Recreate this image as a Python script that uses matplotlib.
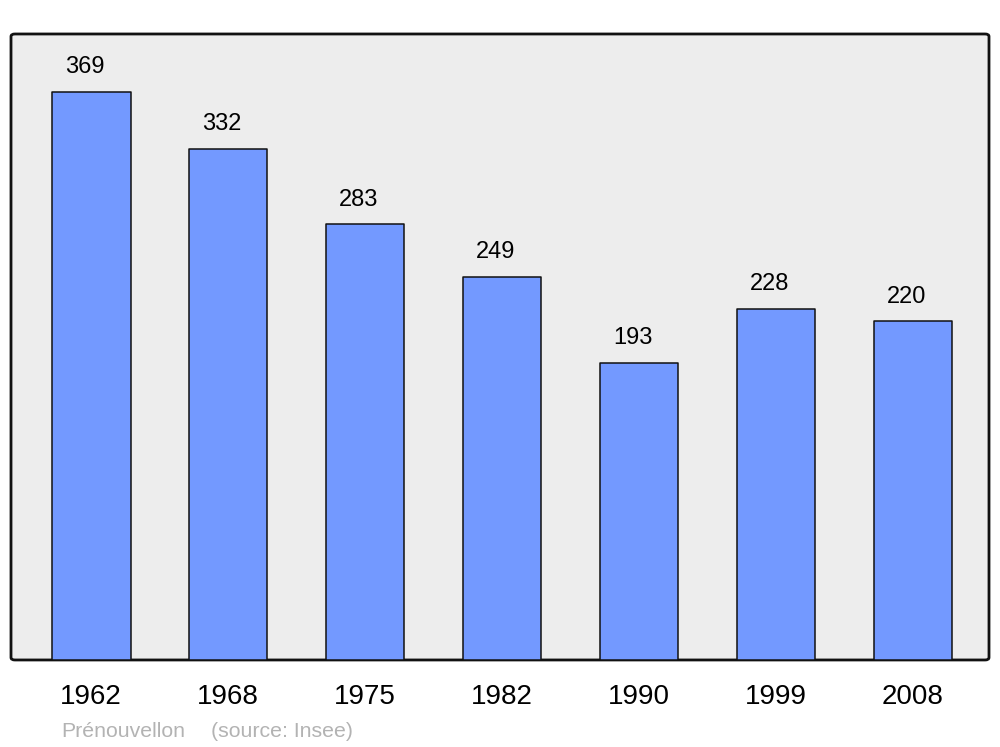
import matplotlib.pyplot as plt
from matplotlib.patches import FancyBboxPatch

years = ["1962", "1968", "1975", "1982", "1990", "1999", "2008"]
population = [369, 332, 283, 249, 193, 228, 220]
commune = "Prénouvellon"
source = "(source: Insee)"

plt.rcParams['font.family'] = ['Liberation Sans', 'DejaVu Sans']

fig = plt.figure(figsize=(10, 7.47), dpi=100)
ax = fig.add_axes([0.011, 0.1165, 0.978, 0.838])
ax.set_facecolor('none')

# rounded grey frame
frame = FancyBboxPatch((0, 0), 1, 1, boxstyle="round,pad=0,rounding_size=0.004",
                       transform=ax.transAxes, facecolor='#ededed',
                       edgecolor='#111111', linewidth=2.0, zorder=0, clip_on=False)
ax.add_patch(frame)

x = range(len(years))
bars = ax.bar(x, population, width=0.575, color='#7399ff', edgecolor='#111111',
              linewidth=1.1, zorder=2)
for b in bars:
    b.set_joinstyle('round')

for xi, v in zip(x, population):
    ax.annotate(str(v), (xi, v), xytext=(-4.5, 13.5), textcoords='offset points',
                ha='center', va='baseline', fontsize=17)

ax.set_xlim(-0.585, 6.555)
ax.set_ylim(0, 406.7)
ax.set_xticks(list(x))
ax.set_xticklabels(years, fontsize=20)
ax.tick_params(axis='x', length=0, pad=17.5)
for lab in ax.get_xticklabels():
    lab.set_x(lab.get_position()[0])
ax.set_yticks([])
for s in ax.spines.values():
    s.set_visible(False)

fig.text(0.061, 1 - 737 / 747, commune, fontsize=15.3, color='#b3b3b3', va='baseline')
fig.text(0.211, 1 - 737 / 747, source, fontsize=15.3, color='#b3b3b3', va='baseline')

fig.savefig('out.png', dpi=100)
